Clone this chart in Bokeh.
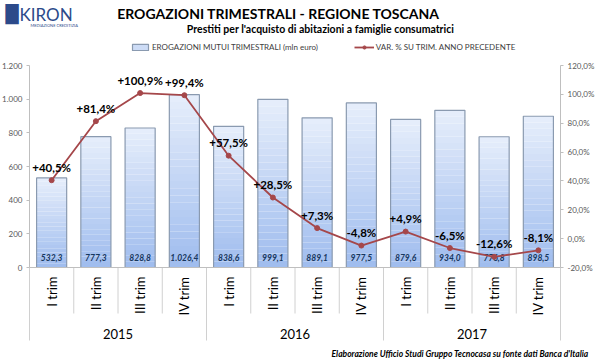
import numpy as np
from bokeh.plotting import figure
from bokeh.models import (ColumnDataSource, Range1d, LinearAxis, FixedTicker, Label,
                          Legend, LegendItem)
from bokeh.core.properties import value
from bokeh.embed import file_html
from bokeh.resources import INLINE

# ---------------- data ----------------
years = ["2015", "2016", "2017"]
quarters = ["I trim", "II trim", "III trim", "IV trim"]
erogazioni = [532.3, 777.3, 828.8, 1026.4, 838.6, 999.1, 889.1, 977.5, 879.6, 934.0, 776.8, 898.5]
var_pct = [40.5, 81.4, 100.9, 99.4, 57.5, 28.5, 7.3, -4.8, 4.9, -6.5, -12.6, -8.1]
left_ticks = [0, 200, 400, 600, 800, 1000, 1200]
right_ticks = [-20, 0, 20, 40, 60, 80, 100, 120]

FONT = "Lato"
BAR_TOP = "#e6eefb"
BAR_BOT = "#9fbcee"
BAR_EDGE = "#8a9ab0"
LINE_COL = "#a5474a"

def it_num(v, dec=1):
    s = f"{v:,.{dec}f}"
    return s.replace(",", "X").replace(".", ",").replace("X", ".")

def it_pct(v):
    return ("+" if v > 0 else "") + it_num(v) + "%"

n = len(erogazioni)
xc = [i + 0.5 for i in range(n)]
cat_labels = [q for _ in years for q in quarters]

# geometry (canvas pixels); the frame covers the whole canvas
W, H = 595, 363
C_LEFT, C_RIGHT = 29, 560      # pixel columns of category span
Y_TOP_PX, Y0_PX = 65, 267      # pixel rows of 1200 and 0

Y_MAX = 1200
upp_y = Y_MAX / (Y0_PX - Y_TOP_PX)
upp_x = n / (C_RIGHT - C_LEFT)
x_start, x_end = -C_LEFT * upp_x, n + (W - C_RIGHT) * upp_x
y_start, y_end = -(H - Y0_PX) * upp_y, Y_MAX + Y_TOP_PX * upp_y
P_LO, P_HI = -20, 120
ppu = (P_HI - P_LO) / Y_MAX

def below(px):  # data y for a pixel row below the zero line
    return -(px - Y0_PX) * upp_y

p = figure(width=W, height=H, output_backend="svg", toolbar_location=None,
           x_range=Range1d(x_start, x_end), y_range=Range1d(y_start, y_end),
           x_axis_location=None, y_axis_location=None,
           min_border_left=0, min_border_right=0, min_border_top=0, min_border_bottom=0)
p.extra_y_ranges = {"pct": Range1d(P_LO + y_start * ppu, P_LO + y_end * ppu)}
p.outline_line_color = None
p.grid.visible = False
p.background_fill_color = "white"
p.border_fill_color = "white"

# ---------------- gradient bars ----------------
def hex2rgb(h):
    h = h.lstrip("#")
    return np.array([int(h[i:i + 2], 16) for i in (0, 2, 4)], float)

c0, c1 = hex2rgb(BAR_BOT), hex2rgb(BAR_TOP)
NSEG = 24
gx, gb, gt, gc = [], [], [], []
for i, v in enumerate(erogazioni):
    for k in range(NSEG):
        f = (k + 0.5) / NSEG
        c = c0 + (c1 - c0) * f
        gx.append(xc[i]); gb.append(v * k / NSEG); gt.append(v * (k + 1) / NSEG)
        gc.append("#%02x%02x%02x" % tuple(int(round(t)) for t in c))
p.vbar(x=gx, bottom=gb, top=gt, width=0.68, fill_color=gc, line_color=None)

src = ColumnDataSource(dict(x=xc, top=erogazioni, lab=[it_num(v) for v in erogazioni],
                            pct=var_pct, plab=[it_pct(v) for v in var_pct],
                            zero=[0] * n))
p.vbar(x="x", top="top", width=0.68, source=src, fill_alpha=0,
       line_color=BAR_EDGE, line_width=1.2)

# legend proxy for the bars (a single NaN row: draws nothing, gives the legend swatch)
bar_proxy = p.vbar(x=[float("nan")], top=[float("nan")], width=0.68,
                   fill_color="#cddcf6", line_color=BAR_EDGE, line_width=1.2)

p.text(x="x", y="zero", text="lab", source=src, text_align="center", text_baseline="middle",
       y_offset=-10, text_font=value(FONT), text_font_style="bold italic",
       text_font_size="8.5px", text_color="#17375e")

# ---------------- line ----------------
lr = p.line(x="x", y="pct", source=src, y_range_name="pct", line_color=LINE_COL, line_width=1.8)
cr = p.scatter(x="x", y="pct", source=src, y_range_name="pct", size=5,
               fill_color=LINE_COL, line_color=LINE_COL)
p.text(x="x", y="pct", text="plab", source=src, y_range_name="pct", text_align="center",
       text_baseline="middle", y_offset=-13, text_font=value(FONT), text_font_style="bold",
       text_font_size="11.5px", text_color="black")

# ---------------- axes (fixed inside the frame) ----------------
ya = LinearAxis(ticker=FixedTicker(ticks=left_ticks), fixed_location=0,
                major_label_overrides={t: it_num(t, 0) for t in left_ticks},
                bounds=(0, Y_MAX))
ra = LinearAxis(y_range_name="pct", ticker=FixedTicker(ticks=right_ticks), fixed_location=n,
                major_label_overrides={t: it_num(t) + "%" for t in right_ticks},
                bounds=(P_LO, P_HI))
p.add_layout(ya, "left")
p.add_layout(ra, "right")
for ax in (ya, ra):
    ax.axis_line_color = "#bfbfbf"
    ax.major_tick_line_color = "#bfbfbf"
    ax.major_tick_in = 0
    ax.major_tick_out = 3
    ax.minor_tick_line_color = None
    ax.major_label_text_font = FONT
    ax.major_label_text_font_size = "8px"
    ax.major_label_text_color = "#595959"
    ax.major_label_standoff = 4

# ---------------- category axis drawn manually ----------------
sep_x = list(range(n + 1))
sep_long = [i % 4 == 0 for i in sep_x]
p.segment(x0=sep_x, x1=sep_x, y0=[0] * len(sep_x),
          y1=[below(340) if l else below(313) for l in sep_long],
          line_color="#d0d0d0", line_width=1)
p.segment(x0=[0], x1=[n], y0=[0], y1=[0], line_color="#bfbfbf", line_width=1)
p.text(x=xc, y=[below(276)] * n, text=cat_labels, angle=np.pi / 2, text_align="right",
       text_baseline="middle", text_font=value(FONT), text_font_size="13px", text_color="black")
p.text(x=[2 + 4 * j for j in range(len(years))], y=[below(333)] * len(years), text=years,
       text_align="center", text_baseline="middle", text_font=value(FONT),
       text_font_size="13px", text_color="black")

# ---------------- legend ----------------
def fy(py):  # screen y from canvas bottom
    return H - py

leg = Legend(items=[LegendItem(label="EROGAZIONI MUTUI TRIMESTRALI (mln euro)", renderers=[bar_proxy]),
                    LegendItem(label="VAR. % SU TRIM. ANNO PRECEDENTE", renderers=[lr, cr])],
             orientation="horizontal", location=(130, fy(52)), padding=0, margin=0,
             spacing=36, glyph_width=20, glyph_height=8, label_height=10,
             label_standoff=2, label_text_font=FONT, label_text_font_size="8px",
             label_text_color="#404040", background_fill_alpha=0, border_line_color=None)
p.add_layout(leg)

# ---------------- titles / logo / footer ----------------
def lab(x, y, text, size, style="normal", align="left", color="black", font=FONT):
    p.add_layout(Label(x=x, y=fy(y), x_units="screen", y_units="screen", text=text,
                       text_align=align, text_baseline="middle", text_font=font,
                       text_font_style=style, text_font_size=size, text_color=color))

lab(278, 13, "EROGAZIONI TRIMESTRALI - REGIONE TOSCANA", "14px", "bold", "center")
lab(320, 28, "Prestiti per l'acquisto di abitazioni a famiglie consumatrici", "10.5px", "bold", "center")
lab(588, 353, "Elaborazione Ufficio Studi Gruppo Tecnocasa su fonte dati Banca d'Italia",
    "8.5px", "bold italic", "right")
lab(5, 13, "\u2588", "17px", color="#2c4a8a", font="DejaVu Sans")
lab(19, 14, "KIRON", "17px", color="#2c4a8a")
lab(30, 25, "MEDIAZIONE CREDITIZIA", "4px", color="#2c4a8a")

open("out.html", "w").write(file_html(p, INLINE))
